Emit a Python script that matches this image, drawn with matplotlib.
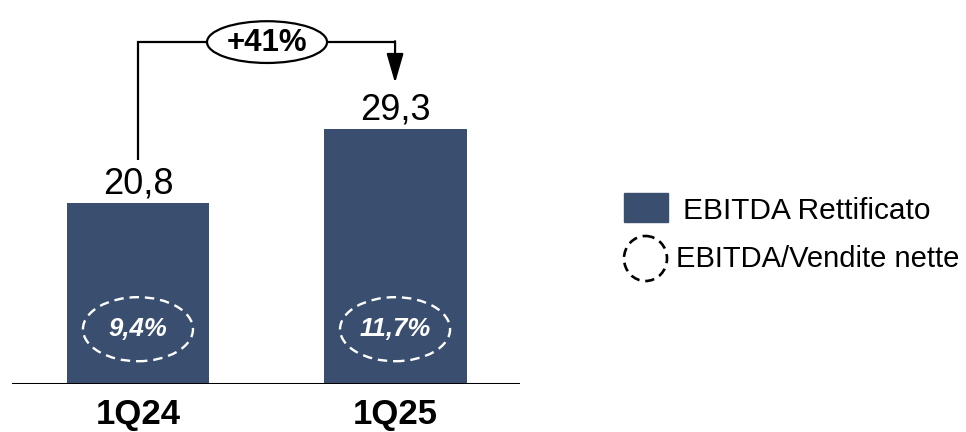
import matplotlib
matplotlib.use("Agg")
import matplotlib.pyplot as plt
from matplotlib.patches import Ellipse, Rectangle

plt.rcParams['font.family'] = ['Liberation Sans', 'DejaVu Sans']

categories = ["1Q24", "1Q25"]
ebitda = [20.8, 29.3]
margins = ["9,4%", "11,7%"]
value_labels = ["20,8", "29,3"]
growth_label = "+41%"
legend_labels = ["EBITDA Rettificato", "EBITDA/Vendite nette"]

BAR_COLOR = "#3A4F6F"

W, H = 966, 432
fig = plt.figure(figsize=(W / 100, H / 100), dpi=100)
# main axes: pixel frame x 12..520, y 0..384 (baseline)
ax = fig.add_axes([12 / W, (H - 384) / H, 508 / W, 384 / H])
ax.set_xlim(-0.49, 1.486)
ax.set_ylim(0, 384 / 8.7)
ax.axis("off")

x = list(range(len(categories)))
ax.bar(x, ebitda, width=0.556, color=BAR_COLOR, zorder=2)
ax.axhline(0, color="black", lw=2.2, zorder=3)

for xi, v, lab in zip(x, ebitda, value_labels):
    ax.text(xi, v + 1.1, lab, ha="center", va="baseline", fontsize=26, color="black")

for xi, m in zip(x, margins):
    ax.add_patch(Ellipse((xi, 6.3), 0.428, 7.36, fill=False, ec="white", lw=1.7,
                         ls=(0, (4, 2.5)), zorder=4))
    ax.text(xi, 6.3, m, ha="center", va="center", fontsize=18.5, color="white",
            fontweight="bold", fontstyle="italic", zorder=5)

for xi, c in zip(x, categories):
    ax.text(xi, -3.5, c, ha="center", va="center", fontsize=25, fontweight="bold",
            clip_on=False)

# growth bracket
y_top = 39.3
y_start = ebitda[0] + 4.9
ax.plot([x[0], x[0], x[1]], [y_start, y_top, y_top], color="black", lw=1.6, zorder=3,
        solid_capstyle="butt", solid_joinstyle="miter")
ax.annotate("", xy=(x[1], ebitda[1] + 5.3), xytext=(x[1], y_top + 0.1),
            arrowprops=dict(arrowstyle="-|>,head_length=0.9,head_width=0.26",
                            mutation_scale=20, color="black", lw=1.6,
                            shrinkA=0, shrinkB=0), zorder=3)
cx = 0.502
ax.add_patch(Ellipse((cx, y_top), 0.467, 4.8, fc="white", ec="black", lw=1.6, zorder=4,
                     clip_on=False))
ax.text(cx, y_top - 0.1, growth_label, ha="center", va="center", fontsize=22.5,
        fontweight="bold", zorder=5)

# legend in pixel coordinates
lax = fig.add_axes([0, 0, 1, 1])
lax.set_xlim(0, W)
lax.set_ylim(H, 0)
lax.axis("off")
lax.add_patch(Rectangle((624, 193), 44, 29, color=BAR_COLOR))
lax.text(683, 211, legend_labels[0], ha="left", va="center", fontsize=21.5)
lax.add_patch(Ellipse((645.5, 258.5), 43, 45, fill=False, ec="black", lw=1.9,
                      ls=(0, (3.5, 2.2))))
lax.text(676, 259, legend_labels[1], ha="left", va="center", fontsize=21)

fig.savefig("out.png", dpi=100)
